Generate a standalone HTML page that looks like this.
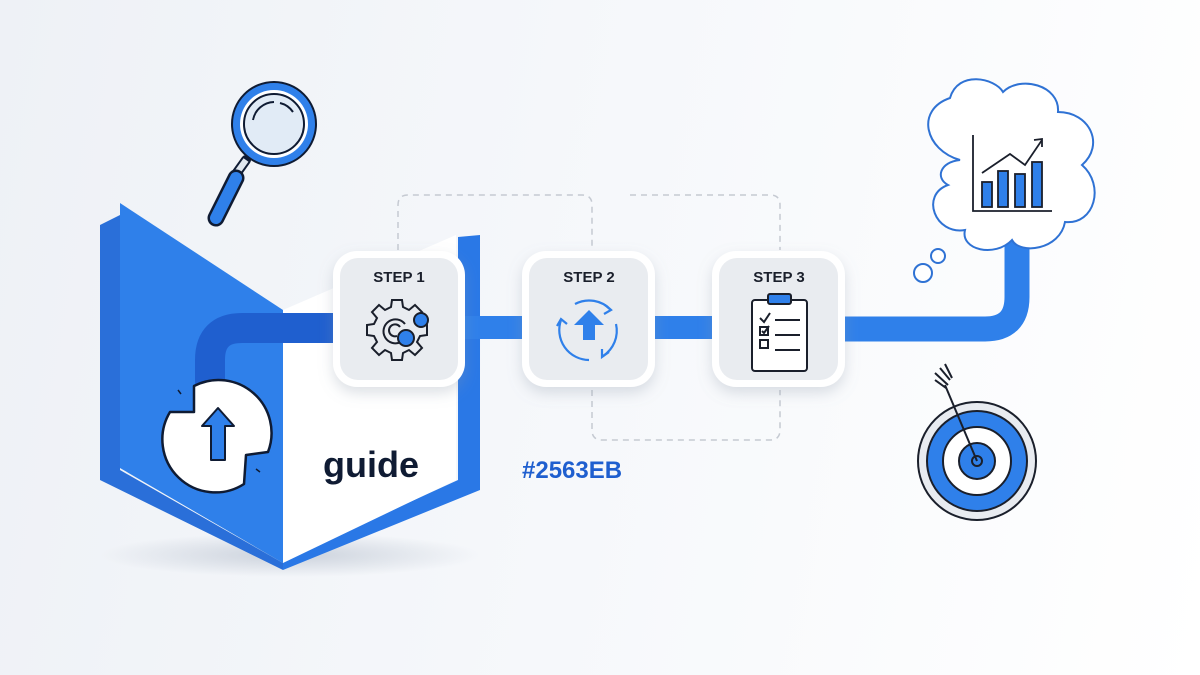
<!DOCTYPE html>
<html><head><meta charset="utf-8"><style>
html,body{margin:0;padding:0;width:1200px;height:675px;overflow:hidden;}
body{background:linear-gradient(100deg,#eef1f6 0%,#f6f8fb 50%,#ffffff 100%);font-family:"Liberation Sans",sans-serif;}
svg{position:absolute;left:0;top:0;}
</style></head><body>
<svg width="1200" height="675" viewBox="0 0 1200 675" xmlns="http://www.w3.org/2000/svg">
<defs>
<filter id="sh" x="-30%" y="-30%" width="160%" height="160%"><feDropShadow dx="0" dy="6" stdDeviation="7" flood-color="#8a96a8" flood-opacity="0.3"/></filter>
<radialGradient id="gsh"><stop offset="0" stop-color="#9aa6b8" stop-opacity="0.45"/><stop offset="1" stop-color="#9aa6b8" stop-opacity="0"/></radialGradient>
</defs>
<ellipse cx="290" cy="555" rx="190" ry="22" fill="url(#gsh)"/>
<g fill="none" stroke="#c5cad2" stroke-width="1.5" stroke-dasharray="6 5">
<path d="M398 250 V205 Q398 195 408 195 H582 Q592 195 592 205 V250"/>
<path d="M630 195 H770 Q780 195 780 205 V250"/>
<path d="M592 390 V430 Q592 440 602 440 H770 Q780 440 780 430 V390"/>
</g>
<polygon points="100,225 120,215 120,470 283,563 283,570 100,480" fill="#2a6fd9"/>
<polygon points="458,237 480,235 480,490 283,570 283,560 458,480" fill="#2a78e6"/>
<polygon points="120,203 283,310 283,563 120,468" fill="#2f80ea"/>
<polygon points="283,310 456,235 456,480 283,563" fill="#ffffff"/>
<path d="M210 400 V360 Q210 328 242 328 H340" fill="none" stroke="#1f5fcf" stroke-width="30"/>
<!-- circle icon -->
<path d="M194 386 A53 53 0 0 1 268 452 L246 455 L244 484 A53 53 0 0 1 170 412 L194 412 Z" fill="#fff" stroke="#0f1b33" stroke-width="2.5" stroke-linejoin="round"/>
<path d="M218 408 L202 426 L211 426 L211 460 L225 460 L225 426 L234 426 Z" fill="#2f80ea" stroke="#0f1b33" stroke-width="2" stroke-linejoin="round"/>
<line x1="178" y1="390" x2="181" y2="394" stroke="#0f1b33" stroke-width="1.5"/>
<line x1="256" y1="469" x2="260" y2="472" stroke="#0f1b33" stroke-width="1.5"/>
<text x="323" y="477" font-family="Liberation Sans,sans-serif" font-weight="bold" font-size="36" fill="#0f1b33">guide</text>
<!-- magnifier -->
<line x1="246" y1="160" x2="236" y2="174" stroke="#0f1b33" stroke-width="10" stroke-linecap="round"/>
<line x1="246" y1="160" x2="236" y2="174" stroke="#dfe6ee" stroke-width="6"/>
<line x1="236" y1="178" x2="216" y2="218" stroke="#0f1b33" stroke-width="17" stroke-linecap="round"/>
<line x1="236" y1="178" x2="216" y2="218" stroke="#2f80ea" stroke-width="12" stroke-linecap="round"/>
<circle cx="274" cy="124" r="42" fill="#2f80ea" stroke="#0f1b33" stroke-width="2"/>
<circle cx="274" cy="124" r="34" fill="#ffffff"/>
<circle cx="274" cy="124" r="30" fill="#e1ebf6" stroke="#0f1b33" stroke-width="2"/>
<path d="M253 120 A22 22 0 0 1 274 102" fill="none" stroke="#0f1b33" stroke-width="2"/>
<path d="M280 103 A22 22 0 0 1 293 112" fill="none" stroke="#0f1b33" stroke-width="2"/>
<rect x="460" y="316" width="70" height="23" fill="#2f80ea"/>
<rect x="650" y="316" width="70" height="23" fill="#2f80ea"/>
<path d="M840 329 H985 Q1017 329 1017 297 V240" fill="none" stroke="#2f80ea" stroke-width="25"/>
<g filter="url(#sh)">
<rect x="333" y="251" width="132" height="136" rx="24" fill="#fff"/>
<rect x="522" y="251" width="133" height="136" rx="24" fill="#fff"/>
<rect x="712" y="251" width="133" height="136" rx="24" fill="#fff"/>
</g>
<rect x="340" y="258" width="118" height="122" rx="18" fill="#e9ecf0"/>
<rect x="529" y="258" width="119" height="122" rx="18" fill="#e9ecf0"/>
<rect x="719" y="258" width="119" height="122" rx="18" fill="#e9ecf0"/>
<g font-family="Liberation Sans,sans-serif" font-weight="bold" font-size="15" fill="#1a1f2b" text-anchor="middle">
<text x="399" y="282">STEP 1</text>
<text x="589" y="282">STEP 2</text>
<text x="779" y="282">STEP 3</text>
</g>
<g transform="translate(397,330)" fill="none" stroke="#1a1f2b" stroke-width="2">
<path d="M-5 -30 L5 -30 L6 -23 L12 -20 L18 -25 L25 -18 L20 -12 L23 -6 L30 -5 L30 5 L23 6 L20 12 L25 18 L18 25 L12 20 L6 23 L5 30 L-5 30 L-6 23 L-12 20 L-18 25 L-25 18 L-20 12 L-23 6 L-30 5 L-30 -5 L-23 -6 L-20 -12 L-25 -18 L-18 -25 L-12 -20 L-6 -23 Z" fill="#e9ecf0"/>
<path d="M8 -6 A12 12 0 1 0 4 12"/>
<path d="M3 -3 A6 6 0 1 0 0 6"/>
<circle cx="24" cy="-10" r="7" fill="#2f80ea"/>
<circle cx="9" cy="8" r="8" fill="#2f80ea"/>
</g>
<g transform="translate(589,330)" fill="none" stroke="#2f80ea" stroke-width="2.2">
<path d="M-14 -26 A30 30 0 0 1 22 -20"/><path d="M16 -25 L22 -20 L15 -16"/>
<path d="M27 -6 A30 30 0 0 1 14 26"/><path d="M20 22 L13 27 L13 19"/>
<path d="M0 30 A30 30 0 0 1 -28 -10"/><path d="M-32 -4 L-28 -11 L-22 -6"/>
<path d="M0 -20 L-15 -5 L-6 -5 L-6 10 L6 10 L6 -5 L15 -5 Z" fill="#2f80ea" stroke="none"/>
</g>
<g stroke="#1a1f2b" stroke-width="2" fill="none">
<rect x="752" y="300" width="55" height="71" rx="3" fill="#fff"/>
<rect x="768" y="294" width="23" height="10" rx="2" fill="#2f80ea"/>
<path d="M760 318 L764 322 L770 313"/>
<line x1="775" y1="320" x2="800" y2="320"/>
<rect x="760" y="327" width="8" height="8"/><path d="M762 331 L764 333 L769 326"/>
<line x1="775" y1="335" x2="800" y2="335"/>
<rect x="760" y="340" width="8" height="8"/>
<line x1="775" y1="350" x2="800" y2="350"/>
</g>
<text x="522" y="478" font-family="Liberation Sans,sans-serif" font-weight="bold" font-size="24" fill="#1f5fcf">#2563EB</text>
<path d="M960 160 C925 150 915 110 950 98 C958 70 995 78 1003 92 C1020 75 1060 85 1058 112 C1090 112 1105 145 1082 165 C1105 185 1095 225 1065 222 C1060 250 1020 255 1012 240 C995 258 960 250 965 230 C935 235 920 195 948 185 C935 178 940 162 960 160 Z" fill="#fff" stroke="#2f72d4" stroke-width="2"/>
<circle cx="938" cy="256" r="7" fill="#fff" stroke="#2f72d4" stroke-width="2"/>
<circle cx="923" cy="273" r="9" fill="#fff" stroke="#2f72d4" stroke-width="2"/>
<g stroke="#1a1f2b" stroke-width="1.8" fill="none">
<polyline points="973,135 973,211 1052,211"/>
<rect x="982" y="182" width="10" height="25" fill="#2f80ea"/>
<rect x="998" y="171" width="10" height="36" fill="#2f80ea"/>
<rect x="1015" y="174" width="10" height="33" fill="#2f80ea"/>
<rect x="1032" y="162" width="10" height="45" fill="#2f80ea"/>
<polyline points="982,173 1010,154 1025,165 1042,140"/>
<polyline points="1034,140 1042,139 1042,147"/>
</g>
<g stroke="#1a1f2b" stroke-width="2">
<circle cx="977" cy="461" r="59" fill="#e8ebf0"/>
<circle cx="977" cy="461" r="50" fill="#2f80ea"/>
<circle cx="977" cy="461" r="34" fill="#fff"/>
<circle cx="977" cy="461" r="18" fill="#2f80ea"/>
<circle cx="977" cy="461" r="5" fill="#2f80ea"/>
<line x1="977" y1="461" x2="945" y2="385"/>
<path d="M935 373 L948 385 M940 368 L950 380 M935 380 L946 388 M945 364 L952 378" fill="none"/>
</g>
</svg>
</body></html>
